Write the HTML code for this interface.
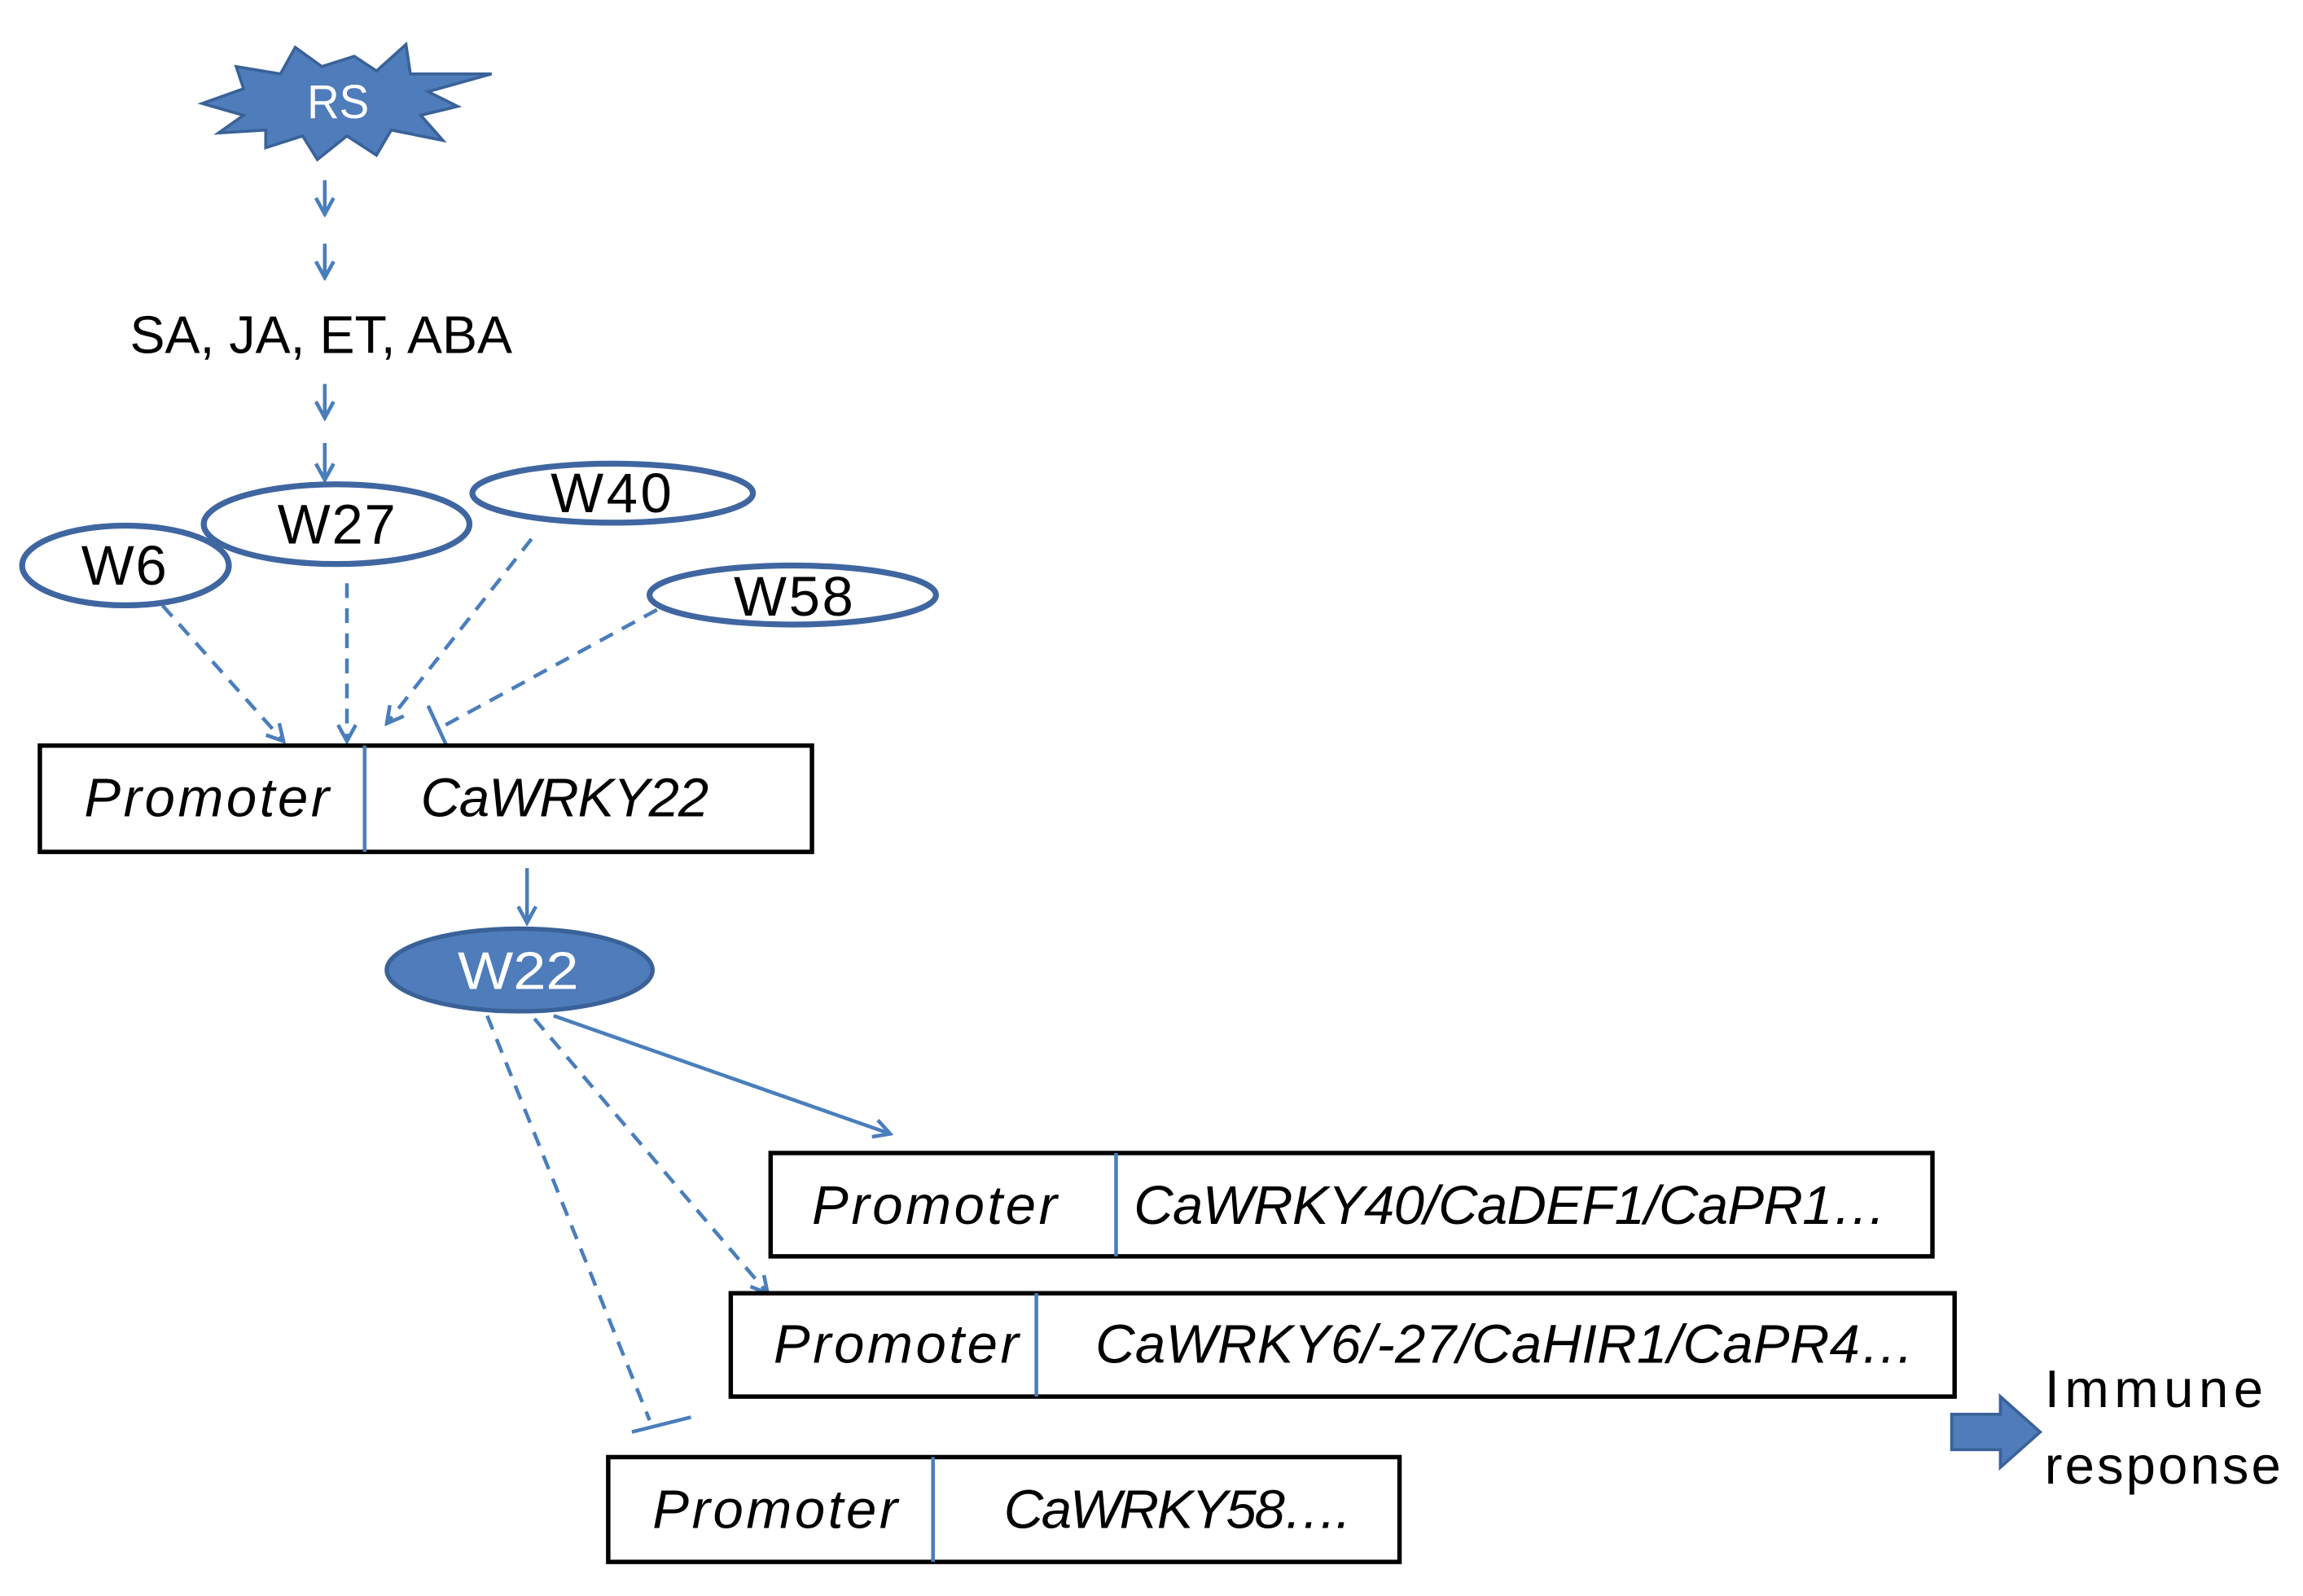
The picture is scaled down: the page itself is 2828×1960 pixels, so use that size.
<!DOCTYPE html>
<html><head><style>html,body{margin:0;padding:0;background:#fff}svg{display:block}</style></head>
<body>
<svg width="2828" height="1960" viewBox="0 0 1560 1081" xmlns="http://www.w3.org/2000/svg" font-family="Liberation Sans, sans-serif">
<defs>
<marker id="a" markerWidth="14" markerHeight="14" refX="12" refY="7" orient="auto" markerUnits="userSpaceOnUse">
<path d="M1,1 L12,7 L1,13" fill="none" stroke="#4a7ebb" stroke-width="2.5"/>
</marker>
</defs>
<rect width="1560" height="1081" fill="#fff"/>
<polygon points="137,70 165,60 160,45 190,50 200,32 218,45 240,38 255,48 275,30 278,50 333,50 290,62 310,72 285,78 300,95 265,88 255,105 235,92 215,108 205,92 180,100 180,88 148,90 165,78" fill="#4f7cba" stroke="#3a6298" stroke-width="2"/>
<text x="208" y="80" font-size="32" fill="#fff" textLength="42" lengthAdjust="spacingAndGlyphs">RS</text>
<g stroke="#4a7ebb" stroke-width="2.5" fill="none">
<line x1="220" y1="122" x2="220" y2="145" marker-end="url(#a)"/>
<line x1="220" y1="165" x2="220" y2="188" marker-end="url(#a)"/>
<line x1="220" y1="260" x2="220" y2="283" marker-end="url(#a)"/>
<line x1="220" y1="300" x2="220" y2="325" marker-end="url(#a)"/>
</g>
<text x="88" y="239" font-size="36" textLength="259" lengthAdjust="spacingAndGlyphs">SA, JA, ET, ABA</text>
<g fill="#fff" stroke="#3f66a0" stroke-width="4">
<ellipse cx="228" cy="355" rx="90" ry="27"/>
<ellipse cx="85" cy="383" rx="70" ry="27"/>
<ellipse cx="415" cy="334" rx="95" ry="20"/>
<ellipse cx="537" cy="403" rx="97" ry="20"/>
</g>
<g font-size="38" lengthAdjust="spacingAndGlyphs">
<text x="188" y="368" textLength="80">W27</text>
<text x="55" y="396" textLength="58">W6</text>
<text x="373" y="347" textLength="82">W40</text>
<text x="497" y="417" textLength="81">W58</text>
</g>
<g stroke="#4a7ebb" stroke-width="2.5" fill="none" stroke-dasharray="10,7">
<line x1="110" y1="410" x2="192" y2="502" marker-end="url(#a)"/>
<line x1="235" y1="395" x2="235" y2="502" marker-end="url(#a)"/>
<line x1="360" y1="365" x2="262" y2="490" marker-end="url(#a)"/>
<line x1="445" y1="413" x2="300" y2="492"/>
<line x1="362" y1="690" x2="520" y2="876" marker-end="url(#a)"/>
<line x1="330" y1="688" x2="440" y2="962"/>
</g>
<g stroke="#4a7ebb" stroke-width="2.5">
<line x1="290" y1="478" x2="302" y2="504"/>
<line x1="428" y1="970" x2="468" y2="960"/>
<line x1="357" y1="588" x2="357" y2="625" marker-end="url(#a)" fill="none"/>
<line x1="375" y1="688" x2="603" y2="768" marker-end="url(#a)" fill="none"/>
</g>
<g fill="#fff" stroke="#000" stroke-width="3">
<rect x="27" y="505" width="523" height="72"/>
<rect x="522" y="781" width="787" height="70"/>
<rect x="495" y="876" width="829" height="70"/>
<rect x="412" y="987" width="536" height="71"/>
</g>
<g stroke="#4a7ebb" stroke-width="2.5">
<line x1="247" y1="505" x2="247" y2="577"/>
<line x1="756" y1="781" x2="756" y2="851"/>
<line x1="702" y1="876" x2="702" y2="946"/>
<line x1="632" y1="987" x2="632" y2="1058"/>
</g>
<g font-size="37" font-style="italic" lengthAdjust="spacingAndGlyphs">
<text x="57" y="553" textLength="166">Promoter</text><text x="285" y="553" textLength="195">CaWRKY22</text>
<text x="550" y="829" textLength="166">Promoter</text><text x="768" y="829" textLength="510">CaWRKY40/CaDEF1/CaPR1…</text>
<text x="524" y="923" textLength="166">Promoter</text><text x="742" y="923" textLength="555">CaWRKY6/-27/CaHIR1/CaPR4…</text>
<text x="442" y="1035" textLength="166">Promoter</text><text x="680" y="1035" textLength="235">CaWRKY58….</text>
</g>
<ellipse cx="352" cy="657" rx="90" ry="28" fill="#4f7cba" stroke="#3a6298" stroke-width="3"/>
<text x="310" y="670" font-size="36" fill="#fff" textLength="82" lengthAdjust="spacingAndGlyphs">W22</text>
<polygon points="1322,958 1355,958 1355,946 1382,970 1355,994 1355,982 1322,982" fill="#4f7cba" stroke="#3a6298" stroke-width="2"/>
<g font-size="36" lengthAdjust="spacingAndGlyphs">
<text x="1385" y="953" textLength="148">Immune</text>
<text x="1385" y="1005" textLength="160">response</text>
</g>
</svg>
</body></html>
